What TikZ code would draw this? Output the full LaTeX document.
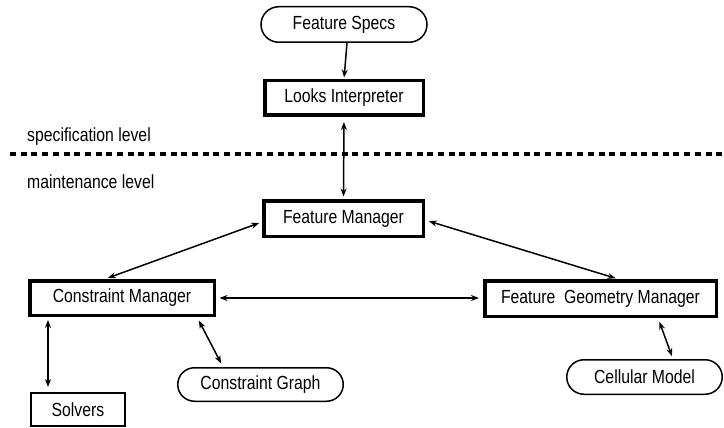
\documentclass[tikz,border=0pt]{standalone}
\usepackage{fontspec}
\setmainfont{Liberation Sans}[FakeStretch=0.83]
\usetikzlibrary{shapes.misc,arrows.meta}
\tikzset{
  lbl/.style={font=\fontsize{19}{22}\selectfont, inner sep=0pt},
  thickbox/.style={lbl, draw, rectangle, line width=3.5pt, align=center},
  thinbox/.style={lbl, draw, rectangle, line width=1.6pt, align=center},
  pill/.style={lbl, draw, rounded rectangle, line width=1.5pt, align=center},
  arr/.style={line width=1.5pt, -{Stealth[length=8pt,width=6pt]}},
  darr/.style={line width=1.5pt, {Stealth[length=8pt,width=6pt]}-{Stealth[length=8pt,width=6pt]}},
  dashline/.style={line width=4pt, dash pattern=on 6pt off 4.7pt}
}
\begin{document}
\begin{tikzpicture}[x=1pt,y=-1pt]
\useasboundingbox (0,0) rectangle (724,428);
% nodes
\node[pill, minimum width=166pt, minimum height=35.5pt] (specs) at (344,24.5) {Feature Specs};
\node[thickbox, minimum width=158.5pt, minimum height=34.5pt] (looks) at (344,98) {Looks Interpreter};
\node[thickbox, minimum width=159.5pt, minimum height=35.5pt] (fm) at (343.5,218.5) {Feature Manager};
\node[thickbox, minimum width=184.5pt, minimum height=34.5pt] (cm) at (122,298) {Constraint Manager};
\node[thickbox, minimum width=231.5pt, minimum height=35.5pt] (fgm) at (600.5,298.5) {Feature\ \ Geometry Manager};
\node[thinbox, minimum width=94.5pt, minimum height=33.5pt] (solvers) at (78,409.5) {Solvers};
\node[pill, minimum width=165.5pt, minimum height=33.5pt] (cgraph) at (260.5,384.5) {Constraint Graph};
\node[pill, minimum width=155.5pt, minimum height=34.5pt] (cell) at (644.5,377) {Cellular Model};
% level labels and separator
\node[lbl, anchor=base west] (spec) at (27,142) {specification level};
\node[lbl, anchor=base west] (maint) at (27,188) {maintenance level};
\coordinate (dl) at (10,154);
\coordinate (dr) at (724,154);
\draw[dashline] (dl) -- (dr);
% connectors
\draw[arr, shorten >=1.5pt] ([xshift=3pt]specs.south) -- (looks.north);
\draw[darr, shorten <=5pt, shorten >=2.5pt] (looks.south) -- (fm.north);
\draw[darr, shorten <=3pt, shorten >=3pt] ([yshift=-3.5pt]fm.west) -- ([xshift=-17pt]cm.north);
\draw[darr, shorten <=4pt, shorten >=2.5pt] ([yshift=-1.5pt]fm.east) -- ([xshift=17.5pt]fgm.north);
\draw[darr, shorten <=3.5pt, shorten >=4pt] (cm.east) -- (cm.east -| fgm.west);
\draw[darr, shorten <=3pt, shorten >=5pt] ([xshift=-74pt]cm.south) -- ([xshift=-74pt]cm.south |- solvers.north);
\draw[darr, shorten <=4pt, shorten >=4pt] ([xshift=75pt]cm.south) -- ([xshift=-37.5pt]cgraph.north);
\draw[darr, shorten <=4pt, shorten >=3pt] ([xshift=57.5pt]fgm.south) -- ([xshift=28.5pt]cell.north);
\end{tikzpicture}
\end{document}
